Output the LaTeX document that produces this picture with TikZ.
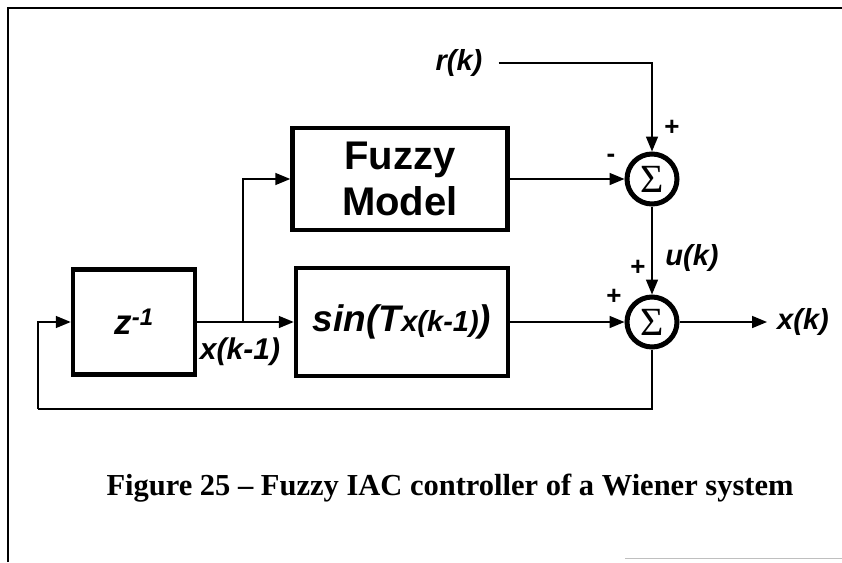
\documentclass[tikz,border=0pt]{standalone}
\usepackage{fontspec}
\setmainfont{Liberation Serif}
\setsansfont{Liberation Sans}
\usepackage{tikz}
\usetikzlibrary{arrows.meta, positioning, calc}
\tikzset{
  blockbox/.style={rectangle, draw=black, line width=4.5pt, minimum width=#1, minimum height=105pt, inner sep=0pt},
  blockbox/.default=122pt,
  sumnode/.style={circle, draw=black, line width=5pt, minimum size=50pt, inner sep=0pt, font=\fontsize{40}{40}\selectfont\rmfamily},
  sig/.style={font=\fontsize{29}{29}\selectfont\sffamily\bfseries\itshape, inner sep=2pt},
  sign/.style={font=\fontsize{26}{26}\selectfont\sffamily\bfseries, inner sep=0pt},
  myarrow/.style={-{Triangle[length=15pt, width=12pt]}, line width=1.6pt},
  plainline/.style={line width=1.6pt},
}

\begin{document}
\begin{tikzpicture}[x=1pt, y=-1pt]
  \useasboundingbox (0,0) rectangle (842,562);
  % Frame
  \draw[line width=1.6pt] (8,562) -- (8,8) -- (842,8);
  \draw[gray!50, line width=1pt] (625,558) -- (842,558);

  % Blocks
  \node[blockbox, font=\fontsize{35}{35}\selectfont\sffamily\bfseries\itshape] (zbox) at (134,322) {z\textsuperscript{\fontsize{24}{24}\selectfont -1}};
  \node[blockbox=212pt, minimum height=108pt, font=\fontsize{37}{37}\selectfont\sffamily\bfseries\itshape] (sinbox) at (402,322) {sin(T{\fontsize{29}{29}\selectfont x(k-1)})};
  \node[blockbox=215pt, minimum height=102pt, align=center, font=\fontsize{40}{46}\selectfont\sffamily\bfseries] (fuzzy) at (400,179) {Fuzzy\\Model};

  % Summing junctions
  \node[sumnode] (sum1) at (652,179) {Σ};
  \node[sumnode] (sum2) at (652,322) {Σ};

  % Signals
  \node[sig] (rk) at (459,63) {r(k)};
  \node[sig] (xk) at (803,322) {x(k)};
  \node[sig, font=\fontsize{30}{30}\selectfont\sffamily\bfseries\itshape] (xkm) at (240,352) {x(k-1)};
  \node[sig] (uk) at (692,258) {u(k)};
  \coordinate (branch) at (243,322);
  \coordinate (fbcorner) at (38,409);

  % Signs
  \node[sign] (p1) at (672,128) {+};
  \node[sign] (m1) at (611,158) {-};
  \node[sign] (p2) at (638,268) {+};
  \node[sign] (p3) at (614,297) {+};

  % Arrows
  \draw[myarrow] ([xshift=14pt]rk.east) -| (sum1.north);
  \draw[myarrow] (fuzzy.east) -- (sum1.west);
  \draw[myarrow] (sum1.south) -- (sum2.north);
  \draw[myarrow] (zbox.east) -- (sinbox.west);
  \draw[myarrow] (branch) |- (fuzzy.west);
  \draw[myarrow] (sinbox.east) -- (sum2.west);
  \draw[myarrow, shorten >=8pt] (sum2.east) -- (xk.west);
  \draw[plainline] (sum2.south) |- (fbcorner);
  \draw[myarrow] (fbcorner) |- (zbox.west);

  % Caption
  \node[font=\fontsize{30.5}{30.5}\selectfont\rmfamily\bfseries] (caption) at (450,488) {Figure 25 -- Fuzzy IAC controller of a Wiener system};
\end{tikzpicture}
\end{document}
